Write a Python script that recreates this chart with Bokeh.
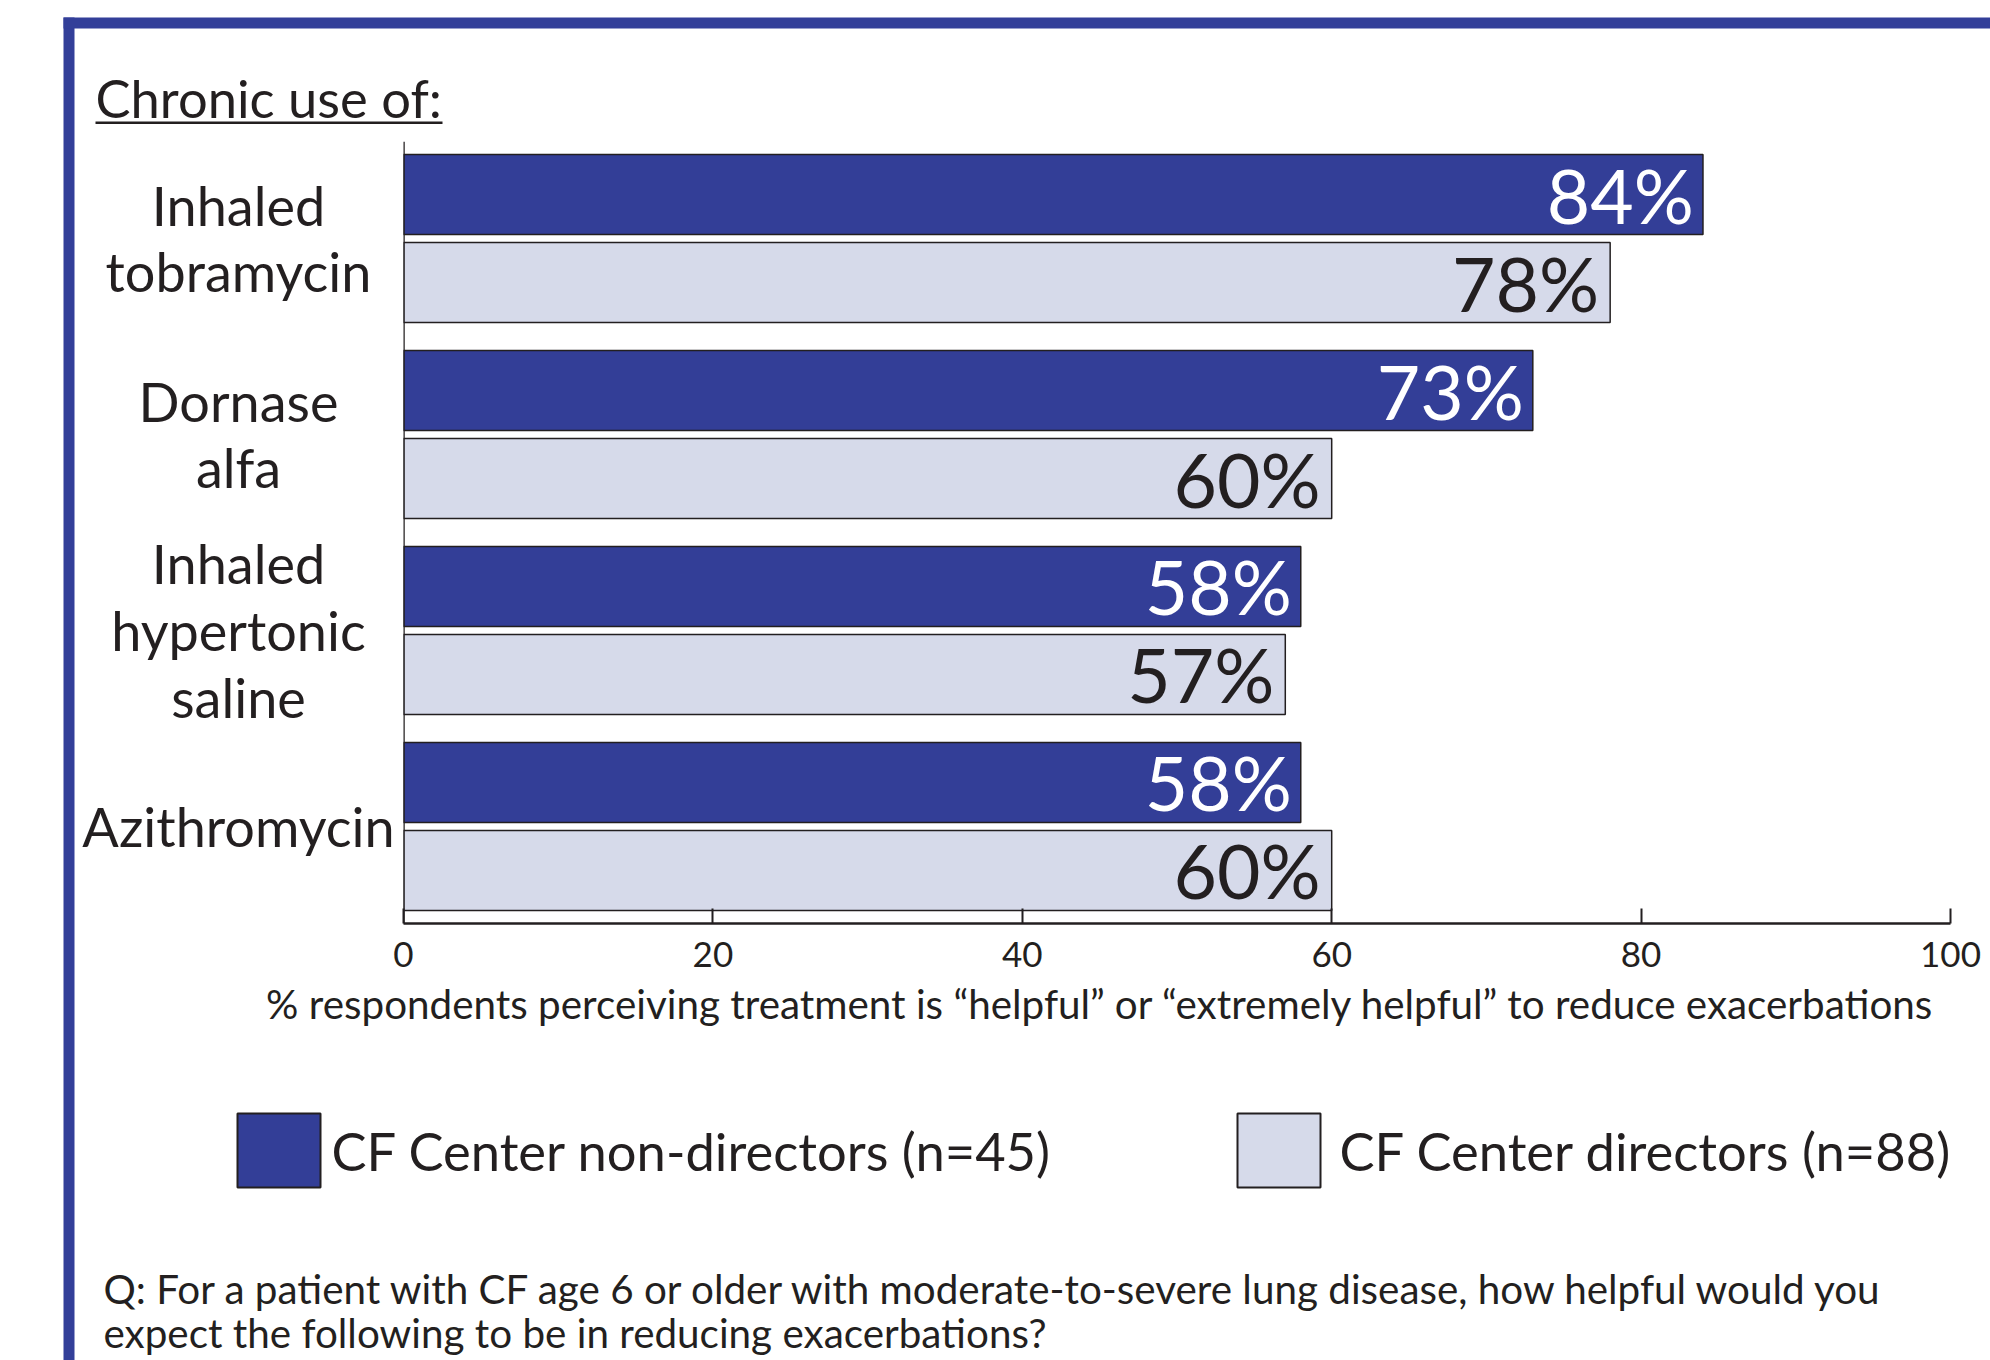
from bokeh.plotting import figure
from bokeh.models import FactorRange, Range1d, FixedTicker, ColumnDataSource, Span
from bokeh.core.properties import value
from bokeh.embed import file_html
from bokeh.resources import INLINE

# ---------------- data ----------------
categories = ["Inhaled tobramycin", "Dornase alfa", "Inhaled hypertonic saline", "Azithromycin"]
category_text = ["Inhaled\ntobramycin", "Dornase\nalfa", "Inhaled\nhypertonic\nsaline", "Azithromycin"]
series_names = ["CF Center non-directors (n=45)", "CF Center directors (n=88)"]
series_keys = ["non-directors", "directors"]
non_directors = [84, 73, 58, 58]
directors = [78, 60, 57, 60]
x_ticks = [0, 20, 40, 60, 80, 100]
x_title = "% respondents perceiving treatment is \u201chelpful\u201d or \u201cextremely helpful\u201d to reduce exacerbations"
header = "Chronic use of:"
question_lines = [
    "Q: For a patient with CF age 6 or older with moderate-to-severe lung disease, how helpful would you",
    "expect the following to be in reducing exacerbations?",
]

# ---------------- style ----------------
FONT = "Lato"
DARK = "#333e97"
LIGHT = "#d6daea"
INK = "#231f20"
BORDER = "#333f99"
series_colors = [DARK, LIGHT]

# frame geometry (page pixels)
W, H = 1990, 1360
FL, FR, FT, FB = 403, 1950, 141, 923
GROUP_PAD = 0.227
RANGE_PAD = 0.1025

factors = [(c, k) for c in reversed(categories) for k in reversed(series_keys)]

p = figure(
    width=W, height=H,
    x_range=Range1d(0, 100),
    y_range=FactorRange(*factors, group_padding=GROUP_PAD, range_padding=RANGE_PAD,
                        range_padding_units="absolute"),
    output_backend="svg", toolbar_location=None, title=None,
    min_border_left=FL, min_border_right=W - FR, min_border_top=FT, min_border_bottom=H - FB,
)
# page-pixel x coordinates for decorations around the frame
p.extra_x_ranges = {"px": Range1d(FL, FR)}

# page-pixel y -> synthetic coordinate of the factor range
_syn_start = -RANGE_PAD
_syn_end = len(factors) + (len(categories) - 1) * GROUP_PAD + RANGE_PAD
_k = (FB - FT) / (_syn_end - _syn_start)


def py(page_y):
    return _syn_start + (FB - page_y) / _k


def baseline(page_y, size):
    # compensate the renderer's placement of alphabetic baselines
    return py(page_y - 0.39 * size)


PX = dict(x_range_name="px", level="overlay")

p.background_fill_color = "white"
p.border_fill_color = "white"
p.outline_line_color = None
p.xgrid.visible = False
p.ygrid.visible = False

src_nd = ColumnDataSource(dict(
    y=[(c, series_keys[0]) for c in categories], x=non_directors,
    label=[f"{v}%" for v in non_directors]))
src_d = ColumnDataSource(dict(
    y=[(c, series_keys[1]) for c in categories], x=directors,
    label=[f"{v}%" for v in directors]))

p.hbar(y="y", left=0, right="x", height=0.91, source=src_nd, fill_color=DARK,
       line_color=INK, line_width=1.5)
p.hbar(y="y", left=0, right="x", height=0.91, source=src_d, fill_color=LIGHT,
       line_color=INK, line_width=1.5)

p.text(x="x", y="y", text="label", source=src_nd, text_align="right", text_baseline="middle",
       x_offset=-9, text_font=value(FONT), text_font_size="75px", text_color="white")
p.text(x="x", y="y", text="label", source=src_d, text_align="right", text_baseline="middle",
       x_offset=-11, text_font=value(FONT), text_font_size="75px", text_color=INK)

src_cat = ColumnDataSource(dict(y=categories, text=category_text))
cat_r = p.text(x=0, y="y", text="text", source=src_cat, x_offset=-165, text_align="center",
               text_baseline="middle", text_font=value(FONT), text_font_size="54px",
               text_line_height=1.03, text_color=INK)
cat_r.level = "overlay"

# x axis
xa = p.xaxis[0]
xa.ticker = FixedTicker(ticks=x_ticks)
xa.axis_line_color = INK
xa.axis_line_width = 2.5
xa.major_tick_in = 15
xa.major_tick_out = 0
xa.major_tick_line_color = INK
xa.major_tick_line_width = 2
xa.minor_tick_line_color = None
xa.major_label_text_font = FONT
xa.major_label_text_font_size = "35px"
xa.major_label_text_color = INK
xa.major_label_standoff = 18

# y axis: plain line only
p.yaxis.visible = False
y_line = Span(location=0, dimension="height", line_color=INK, line_width=2.5)
y_line.level = "overlay"
p.add_layout(y_line)

# x axis title
p.text(x=[1100], y=[baseline(1019, 40.4)], text=[x_title], text_align="center",
       text_baseline="alphabetic", text_font=value(FONT), text_font_size="40.4px",
       text_color=INK, **PX)

# legend keys
p.quad(left=[237, 1237], right=[320, 1320], top=[py(1113)] * 2, bottom=[py(1187)] * 2,
       fill_color=series_colors, line_color=INK, line_width=2, **PX)
p.text(x=[331, 1339], y=[py(1150)] * 2, text=series_names, text_align="left",
       text_baseline="middle", text_font=value(FONT), text_font_size="52.5px",
       text_color=INK, **PX)

# header with underline
p.text(x=[95], y=[baseline(117, 52.5)], text=[header], text_align="left",
       text_baseline="alphabetic", text_font=value(FONT), text_font_size="52.5px",
       text_color=INK, **PX)
p.quad(left=[95], right=[442], top=[py(121)], bottom=[py(123.5)], fill_color=INK,
       line_color=None, **PX)

# question
p.text(x=[103, 103], y=[baseline(1304, 40.4), baseline(1348, 40.4)], text=question_lines,
       text_align="left", text_baseline="alphabetic", text_font=value(FONT),
       text_font_size="40.4px", text_color=INK, **PX)

# blue frame
p.quad(left=[63, 63], right=[74, 2100], top=[py(17), py(17)], bottom=[py(1500), py(28)],
       fill_color=BORDER, line_color=None, **PX)

open("out.html", "w").write(file_html(p, INLINE))
